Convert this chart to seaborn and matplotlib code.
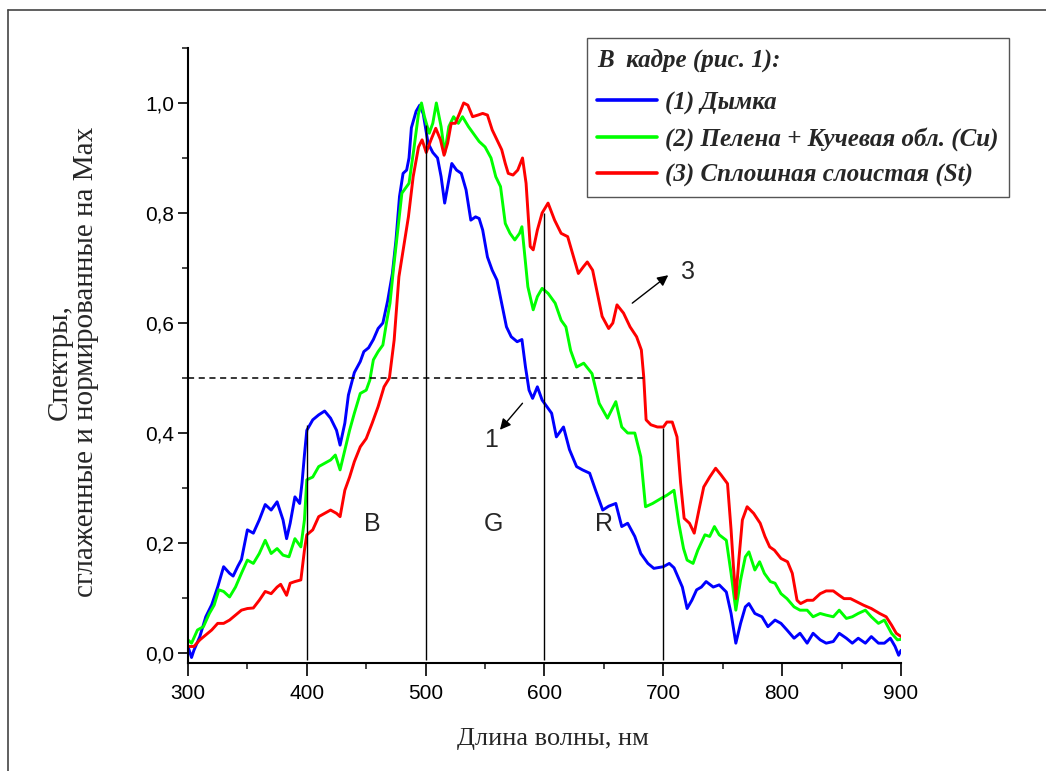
import matplotlib
matplotlib.use("Agg")
import matplotlib.pyplot as plt
from matplotlib.ticker import MultipleLocator, FuncFormatter
from matplotlib.font_manager import FontProperties
from matplotlib.lines import Line2D
import pandas as pd
import seaborn as sns

# --- data ---
wl_blue = [300, 303, 305, 310, 315, 320, 325, 330, 335, 338, 342, 345, 350, 355, 360, 365, 370, 375,
           380, 383, 386, 390, 394, 396, 398, 400, 405, 410, 415, 420, 425, 428, 432, 435, 440, 445,
           448, 452, 456, 460, 464, 468, 472, 475, 478, 481, 484, 486, 488, 492, 495, 498, 502, 506,
           510, 513, 516, 519, 522, 526, 530, 534, 538, 542, 545, 548, 552, 556, 560, 564, 568, 572,
           577, 581, 584, 587, 590, 594, 598, 602, 606, 610, 616, 621, 627, 632, 638, 643, 649, 654,
           660, 665, 670, 676, 681, 687, 692, 700, 705, 709, 712, 716, 720, 724, 728, 732, 736, 742,
           747, 753, 757, 761, 765, 769, 772, 777, 783, 788, 794, 799, 804, 810, 815, 821, 826, 832,
           837, 843, 848, 854, 859, 864, 870, 875, 881, 886, 891, 895, 898, 900]
blue = [0.012, -0.008, 0.005, 0.03, 0.066, 0.088, 0.12, 0.157, 0.145, 0.14, 0.158, 0.17, 0.224, 0.218,
        0.242, 0.27, 0.26, 0.275, 0.242, 0.208, 0.236, 0.284, 0.272, 0.31, 0.36, 0.405, 0.424, 0.433,
        0.44, 0.427, 0.405, 0.378, 0.418, 0.469, 0.51, 0.53, 0.548, 0.555, 0.57, 0.59, 0.6, 0.64,
        0.69, 0.75, 0.83, 0.872, 0.878, 0.9, 0.955, 0.985, 0.996, 0.98, 0.927, 0.91, 0.9, 0.866,
        0.818, 0.854, 0.89, 0.878, 0.872, 0.842, 0.787, 0.793, 0.79, 0.769, 0.72, 0.696, 0.678,
        0.636, 0.593, 0.575, 0.566, 0.57, 0.52, 0.478, 0.463, 0.484, 0.46, 0.448, 0.436, 0.393,
        0.411, 0.37, 0.339, 0.333, 0.327, 0.296, 0.26, 0.267, 0.272, 0.23, 0.236, 0.212, 0.181,
        0.163, 0.154, 0.157, 0.163, 0.155, 0.14, 0.12, 0.081, 0.096, 0.115, 0.12, 0.13, 0.12, 0.124,
        0.111, 0.072, 0.018, 0.054, 0.084, 0.09, 0.072, 0.066, 0.048, 0.06, 0.054, 0.042, 0.027,
        0.036, 0.018, 0.036, 0.024, 0.018, 0.021, 0.036, 0.027, 0.018, 0.027, 0.018, 0.03, 0.018,
        0.018, 0.027, 0.012, -0.004, 0.005]

wl_green = [300, 303, 308, 313, 318, 322, 326, 330, 335, 340, 345, 350, 355, 360, 365, 370, 375, 380,
            385, 390, 395, 398, 400, 405, 410, 415, 420, 424, 428, 432, 436, 440, 445, 450, 453, 456,
            460, 464, 467, 470, 473, 475, 480, 486, 490, 494, 496.5, 499, 503, 506, 509, 513, 516,
            519.5, 523.5, 527.5, 531, 536, 540, 545, 550, 555, 559, 563, 567, 571, 575, 579, 581, 586,
            590.5, 594, 598, 603, 609, 614, 618, 622, 627, 633, 640, 646, 653, 660, 665, 670, 676,
            681, 685, 691, 698, 703, 709, 713, 717, 720, 725, 729, 735, 739, 743, 747, 753, 757, 761,
            765, 769, 772, 777, 781, 785, 790, 794, 799, 804, 810, 815, 821, 826, 832, 837, 843, 848,
            854, 859, 864, 870, 875, 881, 886, 892, 897, 900]
green = [0.024, 0.018, 0.042, 0.048, 0.072, 0.087, 0.115, 0.112, 0.102, 0.12, 0.145, 0.169, 0.163,
         0.181, 0.205, 0.181, 0.19, 0.178, 0.175, 0.208, 0.193, 0.242, 0.315, 0.32, 0.339, 0.345,
         0.351, 0.36, 0.333, 0.369, 0.405, 0.436, 0.472, 0.478, 0.496, 0.533, 0.548, 0.56, 0.6,
         0.636, 0.7, 0.739, 0.836, 0.854, 0.915, 0.981, 1.0, 0.975, 0.945, 0.963, 1.0, 0.957, 0.908,
         0.957, 0.975, 0.963, 0.975, 0.957, 0.945, 0.93, 0.92, 0.9, 0.866, 0.848, 0.781, 0.763,
         0.751, 0.763, 0.775, 0.666, 0.624, 0.648, 0.663, 0.654, 0.636, 0.605, 0.593, 0.55, 0.52,
         0.527, 0.508, 0.454, 0.427, 0.457, 0.411, 0.4, 0.4, 0.357, 0.266, 0.272, 0.281, 0.287,
         0.296, 0.236, 0.19, 0.169, 0.163, 0.187, 0.215, 0.212, 0.23, 0.215, 0.205, 0.145, 0.078,
         0.133, 0.175, 0.184, 0.151, 0.166, 0.145, 0.13, 0.127, 0.108, 0.099, 0.084, 0.078, 0.078,
         0.066, 0.072, 0.069, 0.066, 0.078, 0.063, 0.066, 0.072, 0.078, 0.066, 0.054, 0.06, 0.036,
         0.024, 0.025]

wl_red = [300, 305, 310, 315, 320, 325, 330, 335, 340, 345, 350, 355, 360, 365, 370, 375, 378, 383,
          386, 390, 395, 398, 400, 405, 410, 415, 420, 425, 428, 432, 436, 440, 445, 450, 455, 460,
          465, 469.5, 473.5, 477.5, 481.5, 485.5, 489.5, 494, 497, 500.5, 504.5, 508.5, 512.5, 515.5,
          518.5, 521.5, 525, 528.5, 532, 535.5, 539.5, 544, 548, 552, 556, 560, 564, 567, 569.5,
          573.5, 577.5, 581.5, 584.5, 588, 590.5, 594, 598, 603, 608.5, 614, 619.5, 623.5, 628.5,
          633, 636, 640.5, 644.5, 648.5, 654, 657.5, 661, 666.5, 672, 677.5, 681.5, 683.5, 685.5,
          689.5, 695, 700, 703, 707.5, 711.5, 714.5, 717.5, 722, 726, 730.5, 734, 739, 744, 748.5,
          754, 757, 759, 761, 763.5, 766.5, 770.5, 776, 781.5, 785.5, 789.5, 793.5, 799, 804.5,
          808.5, 812.5, 815.5, 821, 826, 832, 837, 843, 848, 852, 857.5, 863, 868.5, 875, 882,
          887.5, 892, 896, 900]
red = [0.012, 0.012, 0.024, 0.033, 0.042, 0.054, 0.054, 0.06, 0.069, 0.078, 0.081, 0.082, 0.096,
       0.112, 0.108, 0.12, 0.125, 0.105, 0.127, 0.13, 0.133, 0.187, 0.215, 0.224, 0.248, 0.254, 0.26,
       0.254, 0.248, 0.296, 0.32, 0.348, 0.375, 0.39, 0.418, 0.448, 0.484, 0.5, 0.569, 0.684, 0.739,
       0.793, 0.866, 0.92, 0.933, 0.91, 0.933, 0.954, 0.933, 0.905, 0.927, 0.963, 0.963, 0.981, 1.0,
       0.996, 0.975, 0.978, 0.981, 0.978, 0.951, 0.933, 0.915, 0.89, 0.872, 0.869, 0.878, 0.9,
       0.854, 0.739, 0.733, 0.769, 0.8, 0.818, 0.787, 0.763, 0.757, 0.727, 0.69, 0.703, 0.711,
       0.696, 0.654, 0.612, 0.59, 0.6, 0.633, 0.618, 0.593, 0.575, 0.551, 0.502, 0.424, 0.415,
       0.411, 0.411, 0.42, 0.42, 0.393, 0.31, 0.245, 0.236, 0.218, 0.266, 0.302, 0.32, 0.336, 0.324,
       0.308, 0.224, 0.157, 0.099, 0.169, 0.242, 0.266, 0.254, 0.236, 0.212, 0.193, 0.187, 0.172,
       0.166, 0.145, 0.096, 0.09, 0.096, 0.096, 0.108, 0.113, 0.113, 0.105, 0.099, 0.099, 0.093,
       0.087, 0.081, 0.072, 0.066, 0.051, 0.036, 0.03]

names = ["(1) Дымка", "(2) Пелена + Кучевая обл. (Cu)", "(3) Сплошная слоистая (St)"]
colors = ["#0000ff", "#00ff00", "#ff0000"]

band_x = [400, 500, 600, 700]
band_top = [0.415, 0.96, 0.80, 0.41]
band_letters = ["B", "G", "R"]
band_letter_x = [455, 557, 650]

df = pd.concat([
    pd.DataFrame({"wl": wl_blue, "val": blue, "series": names[0]}),
    pd.DataFrame({"wl": wl_green, "val": green, "series": names[1]}),
    pd.DataFrame({"wl": wl_red, "val": red, "series": names[2]}),
])

sns.set_style("ticks")
plt.rcParams["font.family"] = ["Liberation Sans", "DejaVu Sans"]

fig = plt.figure(figsize=(10.46, 7.71), dpi=100)
ax = fig.add_axes([0.1797, 0.1401, 0.6817, 0.7977])

sns.lineplot(data=df, x="wl", y="val", hue="series", hue_order=names,
             palette=dict(zip(names, colors)), sort=False, estimator=None,
             linewidth=2.1, ax=ax, legend=False)

# reference lines
ax.vlines(band_x, -0.012, band_top, colors="black", linewidth=1.0)
ax.hlines(0.5, 300, 684, colors="black", linestyles=(0, (4, 3)), linewidth=1.1)

for lx, letter in zip(band_letter_x, band_letters):
    ax.text(lx, 0.235, letter, fontsize=18, ha="center", va="center")

ax.text(721, 0.693, "3", fontsize=18, ha="center", va="center")
ax.annotate("", xy=(706, 0.69), xytext=(672, 0.633),
            arrowprops=dict(arrowstyle="-|>", color="black", lw=1.0, mutation_scale=16))
ax.text(555, 0.387, "1", fontsize=18, ha="center", va="center")
ax.annotate("", xy=(561, 0.402), xytext=(583, 0.458),
            arrowprops=dict(arrowstyle="-|>", color="black", lw=1.0, mutation_scale=16))

ax.set_xlim(300, 900)
ax.set_ylim(-0.018, 1.1)
ax.xaxis.set_major_locator(MultipleLocator(100))
ax.xaxis.set_minor_locator(MultipleLocator(50))
ax.yaxis.set_major_locator(MultipleLocator(0.2))
ax.yaxis.set_minor_locator(MultipleLocator(0.1))
ax.yaxis.set_major_formatter(FuncFormatter(lambda v, p: f"{v:.1f}".replace(".", ",")))
ax.tick_params(axis="both", which="major", direction="out", width=1.2, labelsize=15, colors="black")
ax.tick_params(axis="x", which="major", length=9, pad=6)
ax.tick_params(axis="y", which="major", length=7, pad=3)
ax.tick_params(axis="both", which="minor", direction="out", length=4, width=1.2)
sns.despine(ax=ax)
for s in ["left", "bottom"]:
    ax.spines[s].set_linewidth(1.5)
    ax.spines[s].set_color("black")

ax.set_xlabel("Длина волны, нм", family="Liberation Serif", fontsize=19)
ax.set_ylabel("Спектры,\nсглаженные и нормированные на Max", family="Liberation Serif",
              fontsize=21, linespacing=1.0)
ax.xaxis.set_label_coords(0.512, -0.105)
ax.yaxis.set_label_coords(-0.125, 0.49)

# legend
handles = [Line2D([], [], color=c, linewidth=2.6) for c in colors]
leg_font = FontProperties(family="Liberation Serif", style="italic", weight="bold", size=18)
leg = fig.legend(handles, names, loc="upper left", bbox_to_anchor=(0.561, 0.951),
                 bbox_transform=fig.transFigure, title="В  кадре (рис. 1):",
                 prop=leg_font, title_fontproperties=leg_font, alignment="left",
                 frameon=True, fancybox=False, framealpha=1, edgecolor="#555555",
                 handlelength=2.4, handletextpad=0.3, borderpad=0.42, labelspacing=0.5,
                 borderaxespad=0)
leg.get_frame().set_linewidth(1.0)
leg._legend_box.sep = 14

# outer frame lines (top and left)
fig.add_artist(Line2D([8 / 1046, 1], [1 - 10 / 771, 1 - 10 / 771], transform=fig.transFigure,
                      color="#444444", linewidth=1.2))
fig.add_artist(Line2D([8 / 1046, 8 / 1046], [0, 1 - 10 / 771], transform=fig.transFigure,
                      color="#444444", linewidth=1.2))

fig.savefig("out.png", dpi=100)
